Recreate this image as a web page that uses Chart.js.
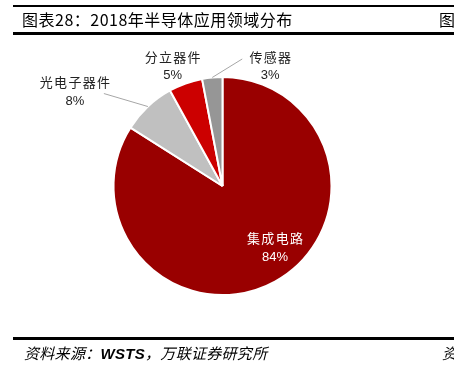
<!DOCTYPE html>
<html>
<head>
<meta charset="utf-8">
<script src="https://cdn.jsdelivr.net/npm/chart.js@4"></script>
<style>
  html, body { margin: 0; padding: 0; background: #fff; }
  #wrap { position: relative; width: 454px; height: 371px; overflow: hidden; background: #fff; }
  #c { position: absolute; left: 0; top: 0; }
  .rule { position: absolute; background: #000; }
  .txt { position: absolute; white-space: nowrap; color: #000; font-family: "Noto Sans CJK SC", "Noto Sans", sans-serif; }
</style>
</head>
<body>
<div id="wrap">
  <canvas id="c" width="454" height="371"></canvas>
  <div class="rule" style="left:13px;top:5px;width:441px;height:1.5px;"></div>
  <div class="rule" style="left:13px;top:32px;width:441px;height:2.5px;"></div>
  <div class="rule" style="left:13px;top:337px;width:441px;height:2.5px;"></div>
  <div class="txt" id="title" style="left:22px;top:8px;font-size:16px;line-height:22px;letter-spacing:0.5px;"></div>
  <div class="txt" style="left:439px;top:8px;font-size:16px;line-height:22px;">图</div>
  <div class="txt" id="foot" style="left:24px;top:342px;font-size:15px;line-height:22px;font-style:italic;letter-spacing:0.3px;"></div>
  <div class="txt" style="left:442px;top:342px;font-size:15px;line-height:22px;font-style:italic;">资</div>
</div>
<script>
// ---- data ----
const titleText = "图表28：2018年半导体应用领域分布";
const sourceText = ["资料来源：", "WSTS", "，万联证券研究所"];
const categories = ["集成电路", "光电子器件", "分立器件", "传感器"];
const shares = [84, 8, 5, 3];
const sliceColors = ["#990000", "#C0C0C0", "#CC0000", "#969696"];

document.getElementById('title').textContent = titleText;
document.getElementById('foot').innerHTML = sourceText[0] + '<b style="font-family:\'Liberation Sans\',sans-serif;">' + sourceText[1] + '</b>' + sourceText[2];

// label placement relative to the slice's outer-edge midpoint
const labelPlacement = [
  { dx: 0,   dy: -34,  color: "#ffffff", leader: null },
  { dx: -73, dy: -15,  color: "#222222", leader: [-44, -13] },
  { dx: -13, dy: -17.5, color: "#222222", leader: null },
  { dx: 58,  dy: -11.5, color: "#222222", leader: [30, -18.5] }
];

const sliceLabels = {
  id: 'sliceLabels',
  afterDatasetsDraw(chart) {
    const ctx = chart.ctx;
    const meta = chart.getDatasetMeta(0);
    const ds = chart.data.datasets[0];
    meta.data.forEach((arc, i) => {
      const p = arc.getProps(['x', 'y', 'startAngle', 'endAngle', 'outerRadius'], true);
      const mid = (p.startAngle + p.endAngle) / 2;
      const ex = p.x + Math.cos(mid) * p.outerRadius;
      const ey = p.y + Math.sin(mid) * p.outerRadius;
      const pl = labelPlacement[i];
      ctx.save();
      if (pl.leader) {
        ctx.strokeStyle = "#A6A6A6";
        ctx.lineWidth = 1;
        ctx.beginPath();
        ctx.moveTo(ex, ey);
        ctx.lineTo(ex + pl.leader[0], ey + pl.leader[1]);
        ctx.stroke();
      }
      const cx = ex + pl.dx, cy = ey + pl.dy;
      ctx.fillStyle = pl.color;
      ctx.textAlign = 'center';
      ctx.textBaseline = 'middle';
      ctx.font = '13px "Noto Sans CJK SC", sans-serif';
      ctx.letterSpacing = '1.3px';
      ctx.fillText(chart.data.labels[i], cx + 0.65, cy - 9);
      ctx.letterSpacing = '0px';
      ctx.font = '13px "Liberation Sans", Arial, sans-serif';
      ctx.fillText(ds.data[i] + '%', cx, cy + 9.5);
      ctx.restore();
    });
  }
};

new Chart(document.getElementById('c'), {
  type: 'pie',
  data: {
    labels: categories,
    datasets: [{
      data: shares,
      backgroundColor: sliceColors,
      borderColor: '#ffffff',
      borderWidth: 2
    }]
  },
  options: {
    responsive: false,
    animation: false,
    layout: { padding: { left: 112, right: 121, top: 76, bottom: 75 } },
    plugins: {
      legend: { display: false },
      tooltip: { enabled: false }
    }
  },
  plugins: [sliceLabels]
});
</script>
</body>
</html>
